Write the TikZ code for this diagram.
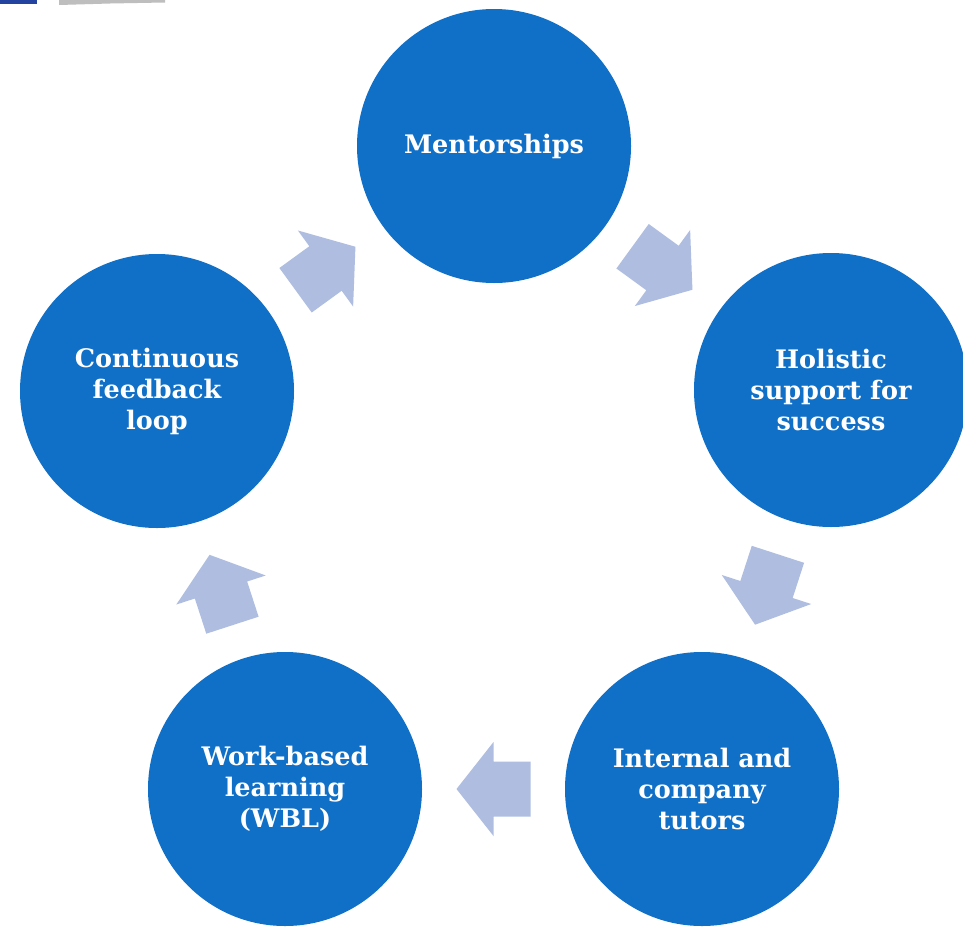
\documentclass[tikz,border=0pt]{standalone}
\usepackage{fontspec}
\setmainfont{DejaVu Serif}
\usetikzlibrary{calc}
\definecolor{circc}{RGB}{16,111,198}
\definecolor{arrowc}{RGB}{174,189,224}
\definecolor{barblue}{RGB}{36,66,160}
\definecolor{bargrey}{RGB}{190,190,190}
\tikzset{
  circ/.style={circle, fill=circc, minimum size=274pt, inner sep=0pt, text=white, font=\bfseries\fontsize{25.5}{31}\selectfont, align=center},
  blockarrow/.pic={\fill[arrowc] (-37,-27.5) -- (0,-27.5) -- (0,-47) -- (37,0) -- (0,47) -- (0,27.5) -- (-37,27.5) -- cycle;}
}
\begin{document}
\begin{tikzpicture}[x=1pt,y=-1pt]
\useasboundingbox (0,0) rectangle (963,926);
\fill[white] (0,0) rectangle (963,926);
\fill[barblue] (0,0) rectangle (37,4);
\fill[bargrey] (59,0) -- (165,0) -- (165,2.5) -- (110,3.5) -- (59,5) -- cycle;
\node[circ] (m) at (494,146) {Mentorships};
\node[circ] (h) at (831,390) {Holistic\\support for\\success};
\node[circ] (i) at (702,789) {Internal and\\company\\tutors};
\node[circ] (w) at (285,789) {Work-based\\learning\\(WBL)};
\node[circ] (c) at (157,391) {Continuous\\feedback\\loop};
\pic[rotate=-36] at ($(m)!0.5!(h)$) {blockarrow};
\pic[rotate=-108] at ($(h)!0.5!(i)$) {blockarrow};
\pic[rotate=180] at ($(i)!0.5!(w)$) {blockarrow};
\pic[rotate=108] at ($(w)!0.5!(c)$) {blockarrow};
\pic[rotate=36] at ($(c)!0.5!(m)$) {blockarrow};
\end{tikzpicture}
\end{document}
